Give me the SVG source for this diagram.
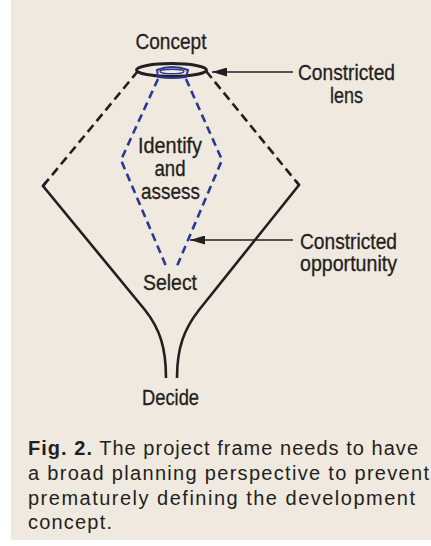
<svg xmlns="http://www.w3.org/2000/svg" width="431" height="546" viewBox="0 0 431 546">
  <defs>
    <style>
      .lbl { font-family: "Liberation Sans", Arial, sans-serif; font-size: 21.5px; fill: #231f20; stroke: #231f20; stroke-width: 0.3; text-anchor: middle; }
      .cap { font-family: "Liberation Sans", Arial, sans-serif; font-size: 20px; fill: #231f20; }
      .funnel { fill: none; stroke: #231f20; stroke-width: 2.6; stroke-linejoin: miter; }
      .dashk { fill: none; stroke: #231f20; stroke-width: 2.6; stroke-dasharray: 9 5; }
      .dashb { fill: none; stroke: #2b3995; stroke-width: 2.6; stroke-dasharray: 8 5; }
      .lead { fill: none; stroke: #231f20; stroke-width: 1.6; }
    </style>
    <marker id="ah" viewBox="0 0 10 10" refX="10" refY="5" markerWidth="15" markerHeight="9" markerUnits="userSpaceOnUse" orient="auto" preserveAspectRatio="none">
      <path d="M0,0 L10,5 L0,10 Z" fill="#231f20"/>
    </marker>
  </defs>

  <rect x="0" y="0" width="431" height="546" fill="#ffffff"/>
  <rect x="11" y="0" width="420" height="540" fill="#efe9df"/>

  <g id="funnel">
    <path class="dashk" d="M138,71 L43,186"/>
    <path class="dashk" d="M206,71 L299,185"/>
    <path class="funnel" d="M46,182 L43,186 L145,310 C160,329 166,348 166,378"/>
    <path class="funnel" d="M296,181 L299,185 L199,310 C184,329 177,348 177,378"/>
  </g>

  <g id="lens">
    <ellipse cx="171.5" cy="70" rx="35" ry="6.5" fill="none" stroke="#231f20" stroke-width="3"/>
    <path d="M157,70 Q172,64 188,70 L186,77 Q172,79 158,77 Z" fill="none" stroke="#2b3995" stroke-width="2"/>
    <ellipse cx="172" cy="71.5" rx="12" ry="2.3" fill="none" stroke="#2b3995" stroke-width="1.5"/>
  </g>

  <g id="opportunity">
    <path class="dashb" d="M158,79 L121,160 L166,266"/>
    <path class="dashb" d="M186,79 L222,160 L177,266"/>
  </g>

  <g id="concept">
    <text class="lbl" x="171" y="49" textLength="71" lengthAdjust="spacingAndGlyphs">Concept</text>
  </g>
  <g id="identify">
    <text class="lbl" x="170" y="153" textLength="64" lengthAdjust="spacingAndGlyphs">Identify</text>
    <text class="lbl" x="170" y="176" textLength="31" lengthAdjust="spacingAndGlyphs">and</text>
    <text class="lbl" x="170.5" y="199" textLength="59" lengthAdjust="spacingAndGlyphs">assess</text>
  </g>
  <g id="select">
    <text class="lbl" x="170" y="290" textLength="54" lengthAdjust="spacingAndGlyphs">Select</text>
  </g>
  <g id="decide">
    <text class="lbl" x="170.5" y="405" textLength="57" lengthAdjust="spacingAndGlyphs">Decide</text>
  </g>
  <g id="lens-label">
    <text class="lbl" x="346.5" y="80" textLength="97" lengthAdjust="spacingAndGlyphs">Constricted</text>
    <text class="lbl" x="346.5" y="103" textLength="33" lengthAdjust="spacingAndGlyphs">lens</text>
  </g>
  <g id="opportunity-label">
    <text class="lbl" x="348.5" y="249" textLength="97" lengthAdjust="spacingAndGlyphs">Constricted</text>
    <text class="lbl" x="348.5" y="271" textLength="97" lengthAdjust="spacingAndGlyphs">opportunity</text>
  </g>

  <g id="connectors">
    <path class="lead" d="M293,72 L212,72" marker-end="url(#ah)"/>
    <path class="lead" d="M293,240 L190,240" marker-end="url(#ah)"/>
  </g>

  <g id="caption">
    <text class="cap" x="28" y="455" textLength="390" lengthAdjust="spacing"><tspan font-weight="bold">Fig. 2.</tspan> The project frame needs to have</text>
    <text class="cap" x="28" y="480" textLength="401" lengthAdjust="spacing">a broad planning perspective to prevent</text>
    <text class="cap" x="28" y="505" textLength="387" lengthAdjust="spacing">prematurely defining the development</text>
    <text class="cap" x="28" y="529" textLength="84" lengthAdjust="spacing">concept.</text>
  </g>
</svg>
